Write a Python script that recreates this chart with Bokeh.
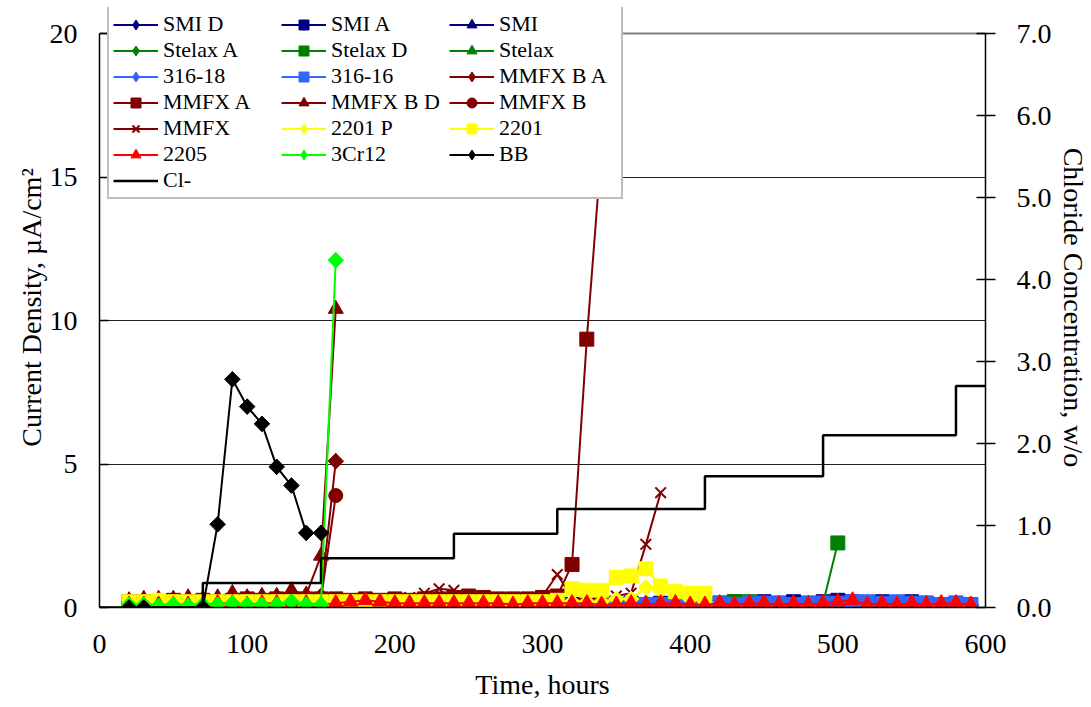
from bokeh.plotting import figure
from bokeh.models import Range1d, LinearAxis, FixedTicker, Legend, LegendItem, NumeralTickFormatter, Grid
from bokeh.embed import file_html
from bokeh.resources import INLINE

# ---------------- data ----------------
t_late = [320, 330, 340, 350, 360, 370, 380, 390, 400, 410, 420, 430, 440, 450,
          460, 470, 480, 490, 500, 510, 520, 530, 540, 550, 560, 570, 580, 590]
smi_d = [0.1, 0.1, 0.15, 0.1, 0.1, 0.15, 0.1, 0.1, 0.1, 0.15, 0.1, 0.1, 0.15, 0.1,
         0.15, 0.1, 0.15, 0.1, 0.2, 0.15, 0.1, 0.15, 0.1, 0.1, 0.15, 0.1, 0.1, 0.1]
smi_a = [0.1, 0.15, 0.1, 0.1, 0.15, 0.1, 0.15, 0.1, 0.15, 0.1, 0.15, 0.2, 0.15, 0.2,
         0.15, 0.2, 0.15, 0.2, 0.25, 0.2, 0.15, 0.2, 0.15, 0.2, 0.15, 0.1, 0.15, 0.1]
smi = [0.05, 0.1, 0.1, 0.05, 0.1, 0.1, 0.05, 0.1, 0.1, 0.05, 0.1, 0.1, 0.1, 0.1,
       0.1, 0.1, 0.1, 0.15, 0.2, 0.15, 0.1, 0.1, 0.1, 0.1, 0.1, 0.1, 0.1, 0.05]
stelax_a = [0.05, 0.1, 0.05, 0.1, 0.05, 0.1, 0.05, 0.1, 0.05, 0.1, 0.1, 0.15, 0.1, 0.1,
            0.1, 0.1, 0.05, 0.1, 0.1, 0.05, 0.1, 0.05, 0.1, 0.05, 0.1, 0.05, 0.1, 0.05]
t_stelax_d = [320, 330, 340, 350, 360, 370, 380, 390, 400, 410, 420, 430, 440, 450,
              460, 470, 480, 490, 500]
stelax_d = [0.05, 0.1, 0.05, 0.1, 0.1, 0.05, 0.1, 0.05, 0.1, 0.1, 0.15, 0.2, 0.2, 0.15,
            0.1, 0.1, 0.1, 0.15, 2.25]
stelax = [0.05, 0.05, 0.1, 0.05, 0.05, 0.1, 0.05, 0.05, 0.1, 0.05, 0.1, 0.1, 0.05, 0.1,
          0.05, 0.1, 0.05, 0.1, 0.05, 0.1, 0.05, 0.1, 0.05, 0.05, 0.1, 0.05, 0.05, 0.05]
s316_18 = [0.0, 0.05, 0.0, 0.05, 0.05, 0.0, 0.05, 0.05, 0.0, 0.05, 0.1, 0.05, 0.1, 0.1,
           0.1, 0.1, 0.1, 0.1, 0.1, 0.1, 0.1, 0.15, 0.1, 0.1, 0.1, 0.1, 0.1, 0.1]
s316_16 = [0.05, 0.0, 0.05, 0.1, 0.05, 0.1, 0.1, 0.05, 0.1, 0.1, 0.15, 0.1, 0.15, 0.15,
           0.15, 0.1, 0.15, 0.15, 0.15, 0.2, 0.2, 0.15, 0.2, 0.15, 0.15, 0.1, 0.15, 0.1]

t_early = [20, 30, 40, 50, 60, 70, 80, 90, 100, 110, 120, 130, 140, 150, 160]
mmfx_b_a = [0.2, 0.2, 0.25, 0.2, 0.25, 0.3, 0.25, 0.3, 0.25, 0.3, 0.3, 0.3, 0.3, 0.4, 5.1]
mmfx_b_d = [0.25, 0.3, 0.3, 0.3, 0.35, 0.3, 0.35, 0.5, 0.35, 0.4, 0.4, 0.6, 0.45, 1.8, 10.4]
mmfx_b = [0.15, 0.2, 0.2, 0.2, 0.2, 0.25, 0.2, 0.25, 0.2, 0.25, 0.25, 0.3, 0.25, 0.3, 3.9]
cr12 = [0.1, 0.1, 0.05, 0.1, 0.05, 0.1, 0.1, 0.15, 0.1, 0.1, 0.1, 0.2, 0.1, 0.1, 12.1]

t_mmfx_a = [20, 30, 40, 50, 60, 70, 80, 90, 100, 110, 120, 130, 140, 150, 160, 170, 180,
            190, 200, 210, 220, 230, 240, 250, 260, 270, 280, 290, 300, 310, 320, 330, 340]
mmfx_a = [0.2, 0.2, 0.2, 0.25, 0.2, 0.25, 0.2, 0.25, 0.3, 0.25, 0.3, 0.25, 0.3, 0.3, 0.3,
          0.25, 0.3, 0.25, 0.3, 0.25, 0.3, 0.3, 0.35, 0.4, 0.35, 0.3, 0.3, 0.3, 0.35, 0.4,
          1.5, 9.35, 16.0]

t_mmfx = [20, 30, 40, 50, 60, 70, 80, 90, 100, 110, 120, 130, 140, 150, 160, 170, 180, 190,
          200, 210, 220, 230, 240, 250, 260, 270, 280, 290, 300, 310, 320, 330, 340, 350,
          360, 370, 380]
mmfx = [0.2, 0.2, 0.25, 0.2, 0.25, 0.2, 0.25, 0.3, 0.25, 0.3, 0.3, 0.3, 0.25, 0.3, 0.3,
        0.3, 0.35, 0.3, 0.3, 0.35, 0.5, 0.65, 0.6, 0.35, 0.3, 0.3, 0.3, 0.35, 0.4, 1.15,
        0.35, 0.3, 0.35, 0.4, 0.5, 2.2, 4.0]

t_2201 = [20, 30, 40, 50, 60, 70, 80, 90, 100, 110, 120, 130, 140, 150, 160, 170, 180, 190,
          200, 210, 220, 230, 240, 250, 260, 270, 280, 290, 300, 310, 320, 330, 340, 350,
          360, 370, 380, 390, 400, 410]
s2201_p = [0.1, 0.1, 0.1, 0.1, 0.1, 0.1, 0.1, 0.1, 0.1, 0.1, 0.1, 0.1, 0.1, 0.1, 0.1, 0.1,
           0.1, 0.1, 0.1, 0.1, 0.1, 0.1, 0.1, 0.1, 0.1, 0.1, 0.1, 0.1, 0.1, 0.1, 0.2, 0.2,
           0.2, 0.3, 0.3, 0.7, 0.6, 0.45, 0.3, 0.2]
s2201 = [0.2, 0.2, 0.25, 0.2, 0.2, 0.2, 0.2, 0.2, 0.2, 0.2, 0.2, 0.2, 0.2, 0.2, 0.2, 0.2,
         0.2, 0.2, 0.2, 0.2, 0.2, 0.2, 0.2, 0.2, 0.2, 0.2, 0.2, 0.2, 0.2, 0.25, 0.65, 0.6,
         0.6, 1.05, 1.1, 1.35, 0.75, 0.55, 0.5, 0.5]

t_2205 = [20, 30, 40, 50, 60, 70, 80, 90, 100, 110, 120, 130, 140, 150, 160, 170, 180, 190,
          200, 210, 220, 230, 240, 250, 260, 270, 280, 290, 300, 310, 320, 330, 340, 350,
          360, 370, 380, 390, 400, 410, 420, 430, 440, 450, 460, 470, 480, 490, 500, 510,
          520, 530, 540, 550, 560, 570, 580, 590]
s2205 = [0.1, 0.1, 0.1, 0.1, 0.1, 0.1, 0.15, 0.15, 0.1, 0.15, 0.15, 0.1, 0.15, 0.1, 0.15,
         0.2, 0.25, 0.2, 0.15, 0.15, 0.15, 0.15, 0.15, 0.15, 0.15, 0.15, 0.1, 0.15, 0.15,
         0.15, 0.15, 0.15, 0.1, 0.1, 0.15, 0.1, 0.15, 0.15, 0.1, 0.1, 0.15, 0.1, 0.15, 0.15,
         0.1, 0.15, 0.1, 0.15, 0.2, 0.25, 0.1, 0.15, 0.1, 0.15, 0.1, 0.15, 0.15, 0.1]

t_bb = [20, 30, 70, 80, 90, 100, 110, 120, 130, 140, 150]
bb = [0.0, 0.0, 0.0, 2.9, 7.95, 7.0, 6.4, 4.9, 4.25, 2.6, 2.6]

t_cl = [0, 70, 150, 240, 310, 410, 490, 580, 600]
cl = [0.0, 0.3, 0.6, 0.9, 1.2, 1.6, 2.1, 2.7, 2.7]

NAVY, GREEN, BLUE, DRED = "#000080", "#008000", "#3366FF", "#800000"
YEL, RED, LIME, BLK = "#FFFF00", "#FF0000", "#00FF00", "#000000"

series = [
    ("SMI D", t_late, smi_d, NAVY, "diamond"),
    ("SMI A", t_late, smi_a, NAVY, "square"),
    ("SMI", t_late, smi, NAVY, "triangle"),
    ("Stelax A", t_late, stelax_a, GREEN, "diamond"),
    ("Stelax D", t_stelax_d, stelax_d, GREEN, "square"),
    ("Stelax", t_late, stelax, GREEN, "triangle"),
    ("316-18", t_late, s316_18, BLUE, "diamond"),
    ("316-16", t_late, s316_16, BLUE, "square"),
    ("MMFX B A", t_early, mmfx_b_a, DRED, "diamond"),
    ("MMFX A", t_mmfx_a, mmfx_a, DRED, "square"),
    ("MMFX B D", t_early, mmfx_b_d, DRED, "triangle"),
    ("MMFX B", t_early, mmfx_b, DRED, "circle"),
    ("MMFX", t_mmfx, mmfx, DRED, "x"),
    ("2201 P", t_2201, s2201_p, YEL, "diamond"),
    ("2201", t_2201, s2201, YEL, "square"),
    ("2205", t_2205, s2205, RED, "triangle"),
    ("3Cr12", t_early, cr12, LIME, "diamond"),
    ("BB", t_bb, bb, BLK, "diamond"),
]

QFONT = "'Liberation Serif'"

# frame spans 7..607 px; value 20 sits at 33 px (legend overhangs the top like the original)
Y_TOP = 20 * 600 / 574
R_TOP = 7 * 600 / 574

p = figure(width=1091, height=707, output_backend="svg", toolbar_location=None,
           x_range=Range1d(0, 600), y_range=Range1d(0, Y_TOP),
           min_border_left=99, min_border_right=103, min_border_top=7, min_border_bottom=100)
p.extra_y_ranges = {"cl": Range1d(0, R_TOP)}
p.background_fill_color = "white"
p.border_fill_color = "white"
p.outline_line_color = None

p.xgrid.visible = False
p.ygrid.ticker = FixedTicker(ticks=[5, 10, 15])
p.ygrid.grid_line_color = "#222222"
p.ygrid.grid_line_width = 1
top_line = Grid(dimension=1, ticker=FixedTicker(ticks=[20]),
                grid_line_color="#808080", grid_line_width=2)
p.add_layout(top_line)

items = []
for name, t, v, col, mk in series:
    ln = p.line(t, v, line_color=col, line_width=2)
    if mk == "diamond":
        # legend glyph (diamond) lies fully under the rotated square drawn on top
        sc = p.scatter(t, v, marker="diamond", size=15,
                       fill_color=col, line_color=col, line_width=1)
        p.scatter(t, v, marker="square", angle=0.785398, size=11,
                  fill_color=col, line_color=col, line_width=1)
    elif mk == "x":
        sc = p.scatter(t, v, marker="x", size=15, line_color=col, line_width=2)
    elif mk == "square":
        sc = p.scatter(t, v, marker="square", size=14, fill_color=col, line_color=col)
    elif mk == "triangle":
        sc = p.scatter(t, v, marker="triangle", size=15, fill_color=col, line_color=col)
    else:
        sc = p.scatter(t, v, marker="circle", size=14, fill_color=col, line_color=col)
    items.append(LegendItem(label=name, renderers=[ln, sc]))

cl_r = p.step(t_cl, cl, mode="after", line_color=BLK, line_width=2.5, y_range_name="cl")
items.append(LegendItem(label="Cl-", renderers=[cl_r]))

# axes
xa = p.xaxis[0]
xa.ticker = FixedTicker(ticks=[0, 100, 200, 300, 400, 500, 600])
xa.axis_label = "Time, hours"
xa.major_tick_out = 0
xa.major_tick_in = 0
xa.minor_tick_out = 0
xa.major_label_standoff = 27
xa.axis_label_standoff = 13

ya = p.yaxis[0]
ya.ticker = FixedTicker(ticks=[0, 5, 10, 15, 20])
ya.bounds = (0, 20)
ya.axis_label = "Current Density, µA/cm²"
ya.major_tick_out = 0
ya.major_tick_in = 9
ya.minor_tick_out = 0
ya.major_label_standoff = 22
ya.axis_label_standoff = 0

ra = LinearAxis(y_range_name="cl", axis_label="Chloride Concentration, w/o",
                ticker=FixedTicker(ticks=[0, 1, 2, 3, 4, 5, 6, 7]),
                formatter=NumeralTickFormatter(format="0.0"), bounds=(0, 7))
ra.major_tick_out = 10
ra.major_tick_in = 9
ra.minor_tick_out = 0
ra.major_label_standoff = 21
ra.axis_label_standoff = 3
p.add_layout(ra, "right")

for ax in (xa, ya, ra):
    ax.axis_line_color = "black"
    ax.axis_line_width = 1.5
    ax.major_tick_line_color = "black"
    ax.major_tick_line_width = 1.5
    ax.major_label_text_font = QFONT
    ax.major_label_text_font_size = "28px"
    ax.major_label_text_font_style = "normal"
    ax.major_label_text_color = "black"
    ax.axis_label_text_font = QFONT
    ax.axis_label_text_font_size = "28px"
    ax.axis_label_text_font_style = "normal"
    ax.axis_label_text_color = "black"
ya.major_label_orientation = "horizontal"
ra.major_label_orientation = "horizontal"

legend = Legend(items=items, location=(8, 408), orientation="horizontal", ncols=3,
                label_text_font=QFONT, label_text_font_size="22px",
                label_text_font_style="normal", label_text_color="black",
                glyph_width=45, glyph_height=25, label_standoff=5, label_width=118,
                label_height=20, padding=4, spacing=0, margin=0,
                border_line_color="#808080", border_line_width=2,
                background_fill_color="white", background_fill_alpha=1.0)
p.add_layout(legend, "center")

open("out.html", "w").write(file_html(p, INLINE))
